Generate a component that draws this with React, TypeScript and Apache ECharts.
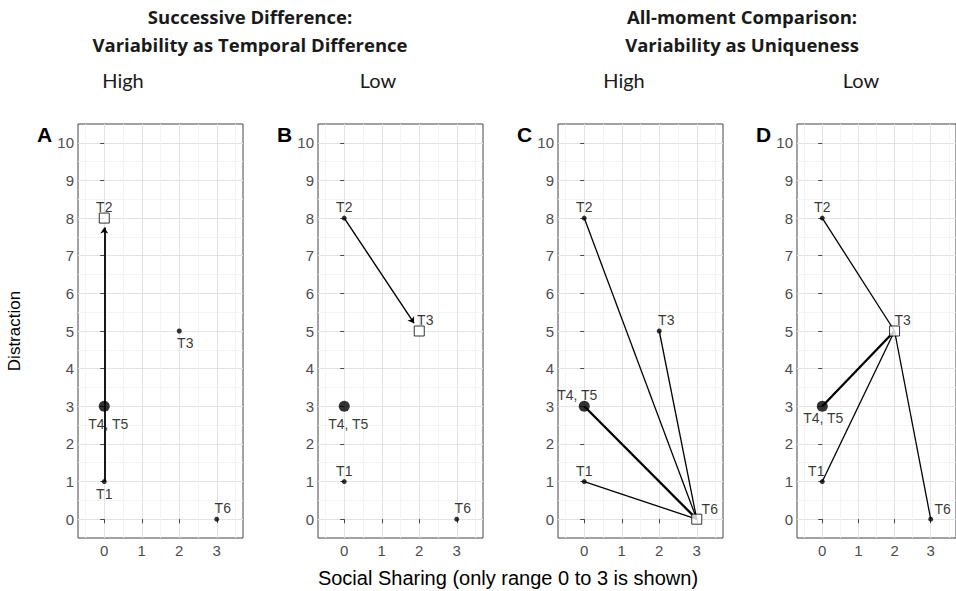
import React, { useEffect, useRef } from 'react';
import * as echarts from 'echarts';

// Moments of one person's day: social sharing (x) and distraction (y)
const moments = ['T1', 'T2', 'T3', 'T4, T5', 'T6'];
const socialSharing = [0, 0, 2, 0, 3];
const distraction = [1, 8, 5, 3, 0];
const momentCount = [1, 1, 1, 2, 1];

// Panels
const panelLetters = ['A', 'B', 'C', 'D'];
const variabilityLevel = ['High', 'Low', 'High', 'Low'];
const focusMoment = [1, 2, 4, 2];
const panelLinks: number[][][] = [
  [[0, 1]],
  [[1, 2]],
  [[1, 4], [2, 4], [3, 4], [0, 4]],
  [[1, 2], [3, 2], [0, 2], [4, 2]],
];
const panelArrows = [true, true, false, false];

// Group headers
const groupTitles = [
  ['Successive Difference:', 'Variability as Temporal Difference'],
  ['All-moment Comparison:', 'Variability as Uniqueness'],
];

// Axes
const xTicks = [0, 1, 2, 3];
const yTicks = [0, 1, 2, 3, 4, 5, 6, 7, 8, 9, 10];
const xTitle = 'Social Sharing (only range 0 to 3 is shown)';
const yTitle = 'Distraction';

// ---- layout & styling ----
const PANEL_LEFT = [78, 318, 558, 797];
const PANEL_TOP = 124;
const PANEL_W = 165;
const PANEL_H = 414;
const LEVEL_X = [123, 378, 624, 861];
const GROUP_X = [250, 742];
const SANS = '"Liberation Sans", Arial, Helvetica, sans-serif';
const HEAD = '"Open Sans", Lato, sans-serif';
const LEVEL_FONT = 'Lato, "Open Sans", sans-serif';

// label nudges in pixels, per panel, per moment
const LABEL_NUDGE: number[][][] = [
  [[0, 12], [0, -11], [6, 12], [4, 18], [6, -11]],
  [[0, -11], [0, -11], [6, -11], [4, 18], [6, -11]],
  [[0, -11], [0, -11], [7, -11], [-7, -11], [13, -10]],
  [[-6, -11], [0, -11], [8, -11], [1, 12], [12, -10]],
];

function shortenEnd(a: number[], b: number[], d: number): number[] {
  const dx = b[0] - a[0];
  const dy = b[1] - a[1];
  const len = Math.hypot(dx, dy);
  return [b[0] - (dx * d) / len, b[1] - (dy * d) / len];
}

function buildOption(): echarts.EChartsOption {
  const grid: any[] = [];
  const xAxis: any[] = [];
  const yAxis: any[] = [];
  const series: any[] = [];
  const graphic: any[] = [];

  panelLetters.forEach((letter, p) => {
    grid.push({
      left: PANEL_LEFT[p],
      top: PANEL_TOP,
      width: PANEL_W,
      height: PANEL_H,
      show: true,
      backgroundColor: '#ffffff',
      borderColor: '#444444',
      borderWidth: 1,
    });
    xAxis.push({
      gridIndex: p,
      type: 'value',
      min: -0.7,
      max: 3.7,
      splitNumber: 5,
      axisLine: { show: false },
      axisTick: { show: true, length: 4, customValues: xTicks, lineStyle: { color: '#444444' } },
      axisLabel: { customValues: xTicks, color: '#4d4d4d', fontSize: 15, margin: 5, fontFamily: SANS },
      splitLine: { show: true, lineStyle: { color: '#e3e3e3', width: 1 } },
      minorTick: { show: false, splitNumber: 2 },
      minorSplitLine: { show: true, lineStyle: { color: '#f1f1f1', width: 0.8 } },
    });
    yAxis.push({
      gridIndex: p,
      type: 'value',
      min: -0.5,
      max: 10.5,
      splitNumber: 10,
      axisLine: { show: false },
      axisTick: { show: true, length: 4, customValues: yTicks, lineStyle: { color: '#444444' } },
      axisLabel: { customValues: yTicks, color: '#4d4d4d', fontSize: 15, margin: 4, fontFamily: SANS },
      splitLine: { show: true, lineStyle: { color: '#e3e3e3', width: 1 } },
      minorTick: { show: false, splitNumber: 2 },
      minorSplitLine: { show: true, lineStyle: { color: '#f1f1f1', width: 0.8 } },
      ...(p === 0
        ? {
            name: yTitle,
            nameLocation: 'middle',
            nameGap: 55,
            nameRotate: 90,
            nameTextStyle: { fontSize: 17, color: '#000', fontFamily: SANS },
          }
        : {}),
    });

    const focus = focusMoment[p];
    series.push({
      type: 'lines',
      coordinateSystem: 'cartesian2d',
      xAxisIndex: p,
      yAxisIndex: p,
      z: 2,
      silent: true,
      symbol: panelArrows[p] ? ['none', 'arrow'] : ['none', 'none'],
      symbolSize: 6,
      lineStyle: { color: '#000', opacity: 1, curveness: 0 },
      data: panelLinks[p].map(([from, to]) => {
        const a = [socialSharing[from], distraction[from]];
        const b = [socialSharing[to], distraction[to]];
        const heavy = momentCount[from] > 1 || momentCount[to] > 1;
        return {
          coords: [a, panelArrows[p] ? shortenEnd(a, b, 0.25) : b],
          lineStyle: { width: panelArrows[p] ? (p === 0 ? 1.8 : 1.4) : heavy ? 2.3 : 1.3 },
        };
      }),
    });

    series.push({
      type: 'scatter',
      xAxisIndex: p,
      yAxisIndex: p,
      z: 3,
      silent: true,
      data: moments.map((name, i) => {
        const isFocus = i === focus;
        return {
          name,
          value: [socialSharing[i], distraction[i]],
          symbol: isFocus ? 'rect' : 'circle',
          symbolSize: isFocus ? 10 : momentCount[i] > 1 ? 11 : 5,
          itemStyle: isFocus
            ? { color: '#ffffff', borderColor: '#000', borderWidth: 1 }
            : { color: '#000', borderWidth: 0 },
          label: {
            show: true,
            position: 'inside',
            offset: LABEL_NUDGE[p][i],
            formatter: name,
            color: '#000',
            fontSize: 14,
            fontFamily: SANS,
            align: 'center',
            verticalAlign: 'middle',
          },
        };
      }),
    });

    // panel tag
    graphic.push({
      type: 'text',
      left: PANEL_LEFT[p] - 33 - 8,
      top: 124,
      style: { text: letter, font: `bold 21px ${SANS}`, fill: '#000' },
    });
    graphic.push({
      type: 'text',
      x: LEVEL_X[p],
      y: 80,
      style: {
        text: variabilityLevel[p],
        font: `20px ${LEVEL_FONT}`,
        fill: '#1a1a1a',
        align: 'center',
        verticalAlign: 'middle',
      },
    });
  });

  groupTitles.forEach((lines, g) => {
    lines.forEach((line, k) => {
      graphic.push({
        type: 'text',
        x: GROUP_X[g],
        y: 16 + k * 28,
        style: {
          text: line,
          font: `bold 18.5px ${HEAD}`,
          fill: '#1a1a1a',
          align: 'center',
          verticalAlign: 'middle',
        },
      });
    });
  });

  graphic.push({
    type: 'text',
    x: 508,
    y: 578,
    style: {
      text: xTitle,
      font: `20px ${SANS}`,
      fill: '#000',
      align: 'center',
      verticalAlign: 'middle',
    },
  });

  return {
    animation: false,
    backgroundColor: '#ffffff',
    grid,
    xAxis,
    yAxis,
    series,
    graphic,
  } as echarts.EChartsOption;
}

export default function App() {
  const ref = useRef<HTMLDivElement>(null);
  useEffect(() => {
    if (!ref.current) return;
    const chart = echarts.init(ref.current, undefined, { renderer: 'svg' });
    chart.setOption(buildOption());
    return () => chart.dispose();
  }, []);
  return (
    <div
      ref={ref}
      style={{ position: 'absolute', left: 0, top: 0, width: 956, height: 591, background: '#fff' }}
    />
  );
}
